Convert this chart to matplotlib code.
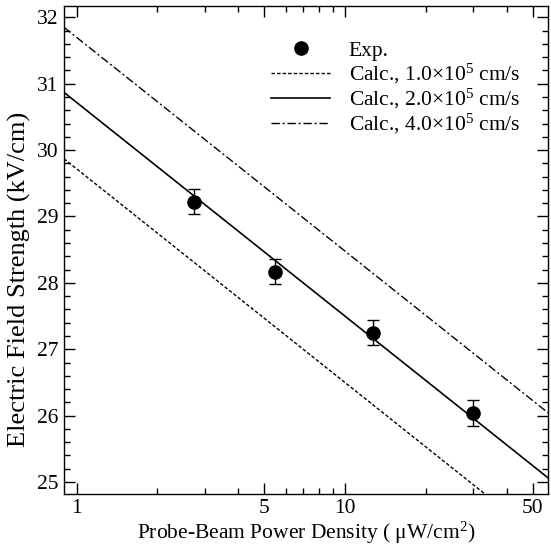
import numpy as np
import matplotlib
matplotlib.use("Agg")
import matplotlib.pyplot as plt
from matplotlib.lines import Line2D
from matplotlib.ticker import FixedLocator, MultipleLocator, NullFormatter

plt.rcParams["font.family"] = ["Liberation Serif", "DejaVu Serif"]
plt.rcParams["mathtext.fontset"] = "custom"
plt.rcParams["mathtext.rm"] = "Liberation Serif"
plt.rcParams["mathtext.it"] = "Liberation Serif:italic"

# measured points
power_exp = [2.74, 5.48, 12.75, 29.9]
field_exp = [29.22, 28.17, 27.25, 26.04]
field_err = [0.19, 0.19, 0.19, 0.20]

# calculated lines (straight on log axis), endpoints
power_calc = [0.897, 57.1]
field_v1 = [29.87, 24.06]
field_v2 = [30.87, 25.06]
field_v4 = [31.85, 26.04]

x_major = [1, 5, 10, 50]
x_minor = [2, 3, 4, 6, 7, 8, 9, 20, 30, 40]

fig = plt.figure(figsize=(5.51, 5.47), dpi=100)
ax = fig.add_axes([0.116, 0.097, 0.879, 0.892])

ax.errorbar(power_exp, field_exp, yerr=field_err, fmt="o", color="black",
            markersize=9.5, capsize=4.5, elinewidth=1.0, capthick=1.0,
            zorder=3)
l1, = ax.plot(power_calc, field_v1, color="black", lw=1.0, ls=(0, (2.5, 1.5)),
              label="Calc., 1.0×10$^{5}$ cm/s")
l2, = ax.plot(power_calc, field_v2, color="black", lw=1.2, ls="-",
              label="Calc., 2.0×10$^{5}$ cm/s")
l4, = ax.plot(power_calc, field_v4, color="black", lw=1.0, ls=(0, (6, 2, 1.5, 2)),
              label="Calc., 4.0×10$^{5}$ cm/s")
exp_handle = Line2D([], [], ls="none", marker="o", color="black",
                    markersize=9.5, label="Exp.")

ax.set_xscale("log")
ax.set_xlim(0.897, 57.1)
ax.set_ylim(24.82, 32.17)

ax.xaxis.set_major_locator(FixedLocator(x_major))
ax.xaxis.set_minor_locator(FixedLocator(x_minor))
ax.set_xticklabels([str(v) for v in x_major])
ax.xaxis.set_minor_formatter(NullFormatter())
ax.yaxis.set_major_locator(MultipleLocator(1))
ax.yaxis.set_minor_locator(MultipleLocator(0.2))

ax.tick_params(which="both", direction="in", top=True, right=True,
               labelsize=15.5, width=1.0)
ax.tick_params(which="major", length=8, pad=4)
ax.tick_params(which="minor", length=4)
for s in ax.spines.values():
    s.set_linewidth(1.0)

ax.set_xlabel("Probe-Beam Power Density ( μW/cm$^{2}$)", fontsize=15.5, labelpad=1)
ax.set_ylabel("Electric Field Strength (kV/cm)", fontsize=19)
ax.yaxis.set_label_coords(-0.068, 0.44)

ax.legend(handles=[exp_handle, l1, l2, l4], loc="upper left",
          bbox_to_anchor=(0.492, 0.926), bbox_transform=fig.transFigure,
          frameon=False, fontsize=15.5, handlelength=2.75, handletextpad=0.85,
          labelspacing=0.05, borderpad=0, borderaxespad=0, numpoints=1)

fig.savefig("out.png", dpi=100)
